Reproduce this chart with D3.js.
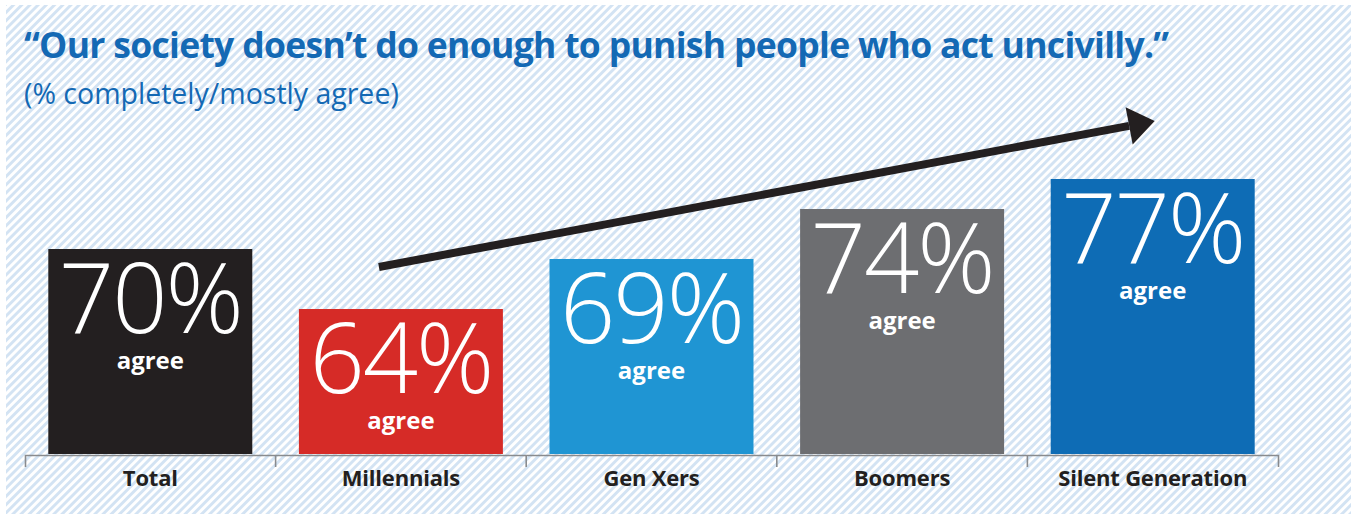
<!DOCTYPE html>
<html>
<head>
<meta charset="utf-8">
<script src="https://cdn.jsdelivr.net/npm/d3@7"></script>
<style>
  html, body { margin: 0; padding: 0; background: #ffffff; }
  svg { display: block; }
</style>
</head>
<body>
<svg id="chart" width="1351" height="514"></svg>
<script>
// Survey result: share who completely/mostly agree, by generation
const categories = ["Total", "Millennials", "Gen Xers", "Boomers", "Silent Generation"];
const agreeShare = [70, 64, 69, 74, 77];
const barColors = ["#231f20", "#d62b27", "#1f95d3", "#6d6e71", "#0e6cb5"];
const valueSuffix = "%";
const valueCaption = "agree";

const titleText = "\u201COur society doesn\u2019t do enough to punish people who act uncivilly.\u201D";
const subtitleText = "(% completely/mostly agree)";

const W = 1351, H = 514;
const svg = d3.select("#chart");

// Diagonal hatched backdrop
const defs = svg.append("defs");
const pat = defs.append("pattern")
  .attr("id", "hatch")
  .attr("patternUnits", "userSpaceOnUse")
  .attr("width", 5.8)
  .attr("height", 5.8)
  .attr("patternTransform", "rotate(45)");
pat.append("rect").attr("width", 5.8).attr("height", 5.8).attr("fill", "#ffffff");
pat.append("rect").attr("width", 2.9).attr("height", 5.8).attr("fill", "#d3e3f3");

svg.append("rect")
  .attr("x", 6).attr("y", 5)
  .attr("width", W - 6).attr("height", H - 5)
  .attr("fill", "url(#hatch)");

// Scales
const baseY = 454;
const x = d3.scaleBand()
  .domain(categories)
  .range([25, 1278])
  .paddingInner(0.186)
  .paddingOuter(0.093);

const y = d3.scaleLinear()
  .domain([49.5, 80])
  .range([baseY, baseY - 305]);

const data = categories.map((c, i) => ({ cat: c, value: agreeShare[i], color: barColors[i] }));

// Bars
svg.append("g").selectAll("rect")
  .data(data)
  .join("rect")
  .attr("x", d => x(d.cat))
  .attr("y", d => y(d.value))
  .attr("width", x.bandwidth())
  .attr("height", d => y(y.domain()[0]) - y(d.value))
  .attr("fill", d => d.color);

// Value labels inside bars: large percentage with a caption line below
const lbl = svg.append("g").selectAll("text")
  .data(data)
  .join("text")
  .attr("transform", d => `translate(${x(d.cat) + x.bandwidth() / 2},${y(d.value)})`)
  .attr("text-anchor", "middle")
  .attr("fill", "#ffffff")
  .style("font-family", "'Open Sans', sans-serif");

lbl.append("tspan")
  .attr("x", 0)
  .attr("y", 84)
  .style("font-weight", 300)
  .style("font-size", "97px")
  .style("letter-spacing", "-2px")
  .text(d => d.value + valueSuffix);

lbl.append("tspan")
  .attr("x", 0)
  .attr("y", 120)
  .style("font-weight", 700)
  .style("font-size", "24px")
  .style("letter-spacing", "0px")
  .text(valueCaption);

// Category axis with separators at band edges
const step = x.step();
const axisG = svg.append("g")
  .attr("transform", `translate(0,${baseY + 1})`)
  .call(d3.axisBottom(x).tickSizeInner(0).tickSizeOuter(12).tickPadding(15));

axisG.select(".domain")
  .attr("stroke", "#898b8e")
  .attr("stroke-width", 1.6);

axisG.selectAll(".tick text")
  .attr("fill", "#231f20")
  .style("font-family", "'Open Sans', sans-serif")
  .style("font-weight", 700)
  .style("font-size", "22px")
  .style("letter-spacing", "-0.2px");

const edges = x.domain().slice(1).map(c => x(c) - step * x.paddingInner() / 2);
axisG.selectAll("line.sep")
  .data(edges)
  .join("line")
  .attr("class", "sep")
  .attr("x1", d => d).attr("x2", d => d)
  .attr("y1", 0).attr("y2", 12)
  .attr("stroke", "#898b8e")
  .attr("stroke-width", 1.6);

// Trend arrow rising from Millennials toward the Silent Generation
const arrowStart = [x("Millennials") + 80, y(68.2)];
const arrowTip = [x("Silent Generation") + x.bandwidth() / 2 + 2, y(82.8)];
const ang = Math.atan2(arrowTip[1] - arrowStart[1], arrowTip[0] - arrowStart[0]);
const headLen = 26, headHalf = 19;
const baseMid = [arrowTip[0] - headLen * Math.cos(ang), arrowTip[1] - headLen * Math.sin(ang)];

svg.append("line")
  .attr("x1", arrowStart[0]).attr("y1", arrowStart[1])
  .attr("x2", baseMid[0]).attr("y2", baseMid[1])
  .attr("stroke", "#231f20")
  .attr("stroke-width", 8);

svg.append("path")
  .attr("d", d3.line()([
    arrowTip,
    [baseMid[0] + headHalf * Math.sin(ang), baseMid[1] - headHalf * Math.cos(ang)],
    [baseMid[0] - headHalf * Math.sin(ang), baseMid[1] + headHalf * Math.cos(ang)]
  ]) + "Z")
  .attr("fill", "#231f20");

// Title and subtitle
svg.append("text")
  .attr("x", 24).attr("y", 58)
  .attr("fill", "#1469b4")
  .style("font-family", "'Open Sans', sans-serif")
  .style("font-weight", 700)
  .style("font-size", "35.5px")
  .style("letter-spacing", "-0.7px")
  .text(titleText);

svg.append("text")
  .attr("x", 24).attr("y", 104)
  .attr("fill", "#1469b4")
  .style("font-family", "'Open Sans', sans-serif")
  .style("font-weight", 400)
  .style("font-size", "28.5px")
  .text(subtitleText);
</script>
</body>
</html>
